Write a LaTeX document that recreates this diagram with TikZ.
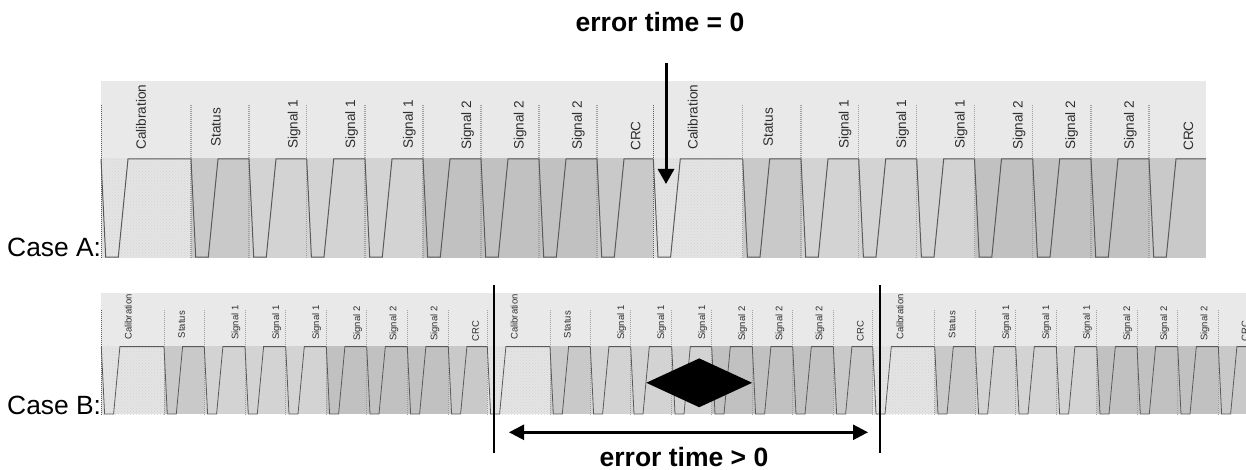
\documentclass[tikz,border=0pt]{standalone}
\usepackage{fontspec}
\setmainfont{Liberation Sans}
\usetikzlibrary{arrows.meta,shapes.geometric,patterns}
\definecolor{hdr}{HTML}{E9E9E9}
\definecolor{cal}{HTML}{E4E4E4}
\definecolor{caldot}{HTML}{D4D4D4}
\definecolor{sta}{HTML}{C9C9C9}
\definecolor{sgo}{HTML}{D3D3D3}
\definecolor{sgt}{HTML}{C1C1C1}
\definecolor{crc}{HTML}{C9C9C9}
\definecolor{wave}{HTML}{5A5A5A}
\definecolor{sep}{HTML}{A0A0A0}
\definecolor{lab}{HTML}{2E2E2E}
\tikzset{
  wavea/.style={draw=wave,line width=1pt,line join=miter},
  waveb/.style={draw=wave,line width=0.8pt,line join=miter},
  sepa/.style={draw=sep,line width=1.2pt,dash pattern=on 1pt off 1pt},
  sepb/.style={draw=sep,line width=0.9pt,dash pattern=on 1pt off 1pt},
  laba/.style={rotate=90,anchor=west,inner sep=0pt,text=lab,font=\fontsize{13.6}{14}\selectfont},
  labb/.style={rotate=90,anchor=west,inner sep=0pt,text=lab,font=\fontsize{9.5}{10}\selectfont},
  caselab/.style={anchor=base west,inner sep=0pt,font=\fontsize{26.4}{28}\selectfont},
  errlab/.style={anchor=base,inner sep=0pt,font=\fontsize{26.5}{28}\selectfont\bfseries},
  bigarrow/.style={line width=3pt,-{Triangle[length=15pt,width=16pt]}},
  dblarrow/.style={line width=2.5pt,{Triangle[length=15pt,width=15pt]}-{Triangle[length=15pt,width=15pt]}},
  boundary/.style={line width=2pt,draw=black},
  errmark/.style={diamond,fill=black,inner sep=0pt,minimum width=106pt,minimum height=49pt,aspect=2.16}
}
\begin{document}
\begin{tikzpicture}[x=1pt,y=-1pt]
\useasboundingbox (0,0) rectangle (1246,470);
\begin{scope}
\clip (0,0) rectangle (1246,470);
% ---- Case A strip
\fill[hdr] (101,81) rectangle (1206,158.5);
\foreach \s/\e/\c in {101/191/cal,191/249/sta,249/306.7/sgo,306.7/365/sgo,365/423/sgo,423/481/sgt,481/539/sgt,539/597/sgt,597/653.3/crc,
  653.3/742.7/cal,742.7/801/sta,801/858.7/sgo,858.7/916.7/sgo,916.7/974.5/sgo,974.5/1032.7/sgt,1032.7/1091/sgt,1091/1149/sgt,1149/1206/crc}
  \fill[\c] (\s,158.5) rectangle (\e,257.5);
\foreach \s/\e in {101/191,653.3/742.7}
  \fill[pattern=crosshatch dots,pattern color=caldot] (\s,158.5) rectangle (\e,257.5);
\foreach \s in {191,249,306.7,365,423,481,539,597,742.7,801,858.7,916.7,974.5,1032.7,1091,1149}
  \draw[sepa] (\s,105) -- (\s,257.5);
\foreach \s in {101,653.3}
  \draw[draw=wave,line width=0.6pt,dash pattern=on 1pt off 1pt] (\s,105) -- (\s,257.5);
\foreach \s/\e in {101/191,191/249,249/306.7,306.7/365,365/423,423/481,481/539,539/597,597/653.3,
  653.3/742.7,742.7/801,801/858.7,858.7/916.7,916.7/974.5,974.5/1032.7,1032.7/1091,1091/1149,1149/1206}
  \draw[wavea] (\s,159) -- (\s+4.7,257) -- (\s+17.3,257) -- (\s+27,159) -- (\e,159);
\foreach \x/\b/\t [count=\i] in {141/150/Calibration,216/146.7/Status,294/149/Signal 1,351.7/149/Signal 1,409.3/149/Signal 1,
  467.7/150/Signal 2,520/150/Signal 2,578.3/150/Signal 2,635.7/151/CRC,
  692.7/150/Calibration,768.3/146.7/Status,845/149/Signal 1,902.7/149/Signal 1,961/149/Signal 1,
  1019/150/Signal 2,1071.7/150/Signal 2,1130.3/150/Signal 2,1188.3/151/CRC}
  \node[laba] (la\i) at (\x,\b) {\t};
% ---- Case B strip
\fill[hdr] (101,293) rectangle (1246,346.3);
\foreach \s/\e/\c in {101.3/164/cal,164/204.3/sta,204.3/245/sgo,245/285.7/sgo,285.7/326.3/sgo,326.3/366.7/sgt,366.7/407.3/sgt,407.3/448.3/sgt,448.3/487.3/crc,
  487.3/550/cal,550/590.3/sta,590.3/630.7/sgo,630.7/671.7/sgo,671.7/711.7/sgo,711.7/752.3/sgt,752.3/792.7/sgt,792.7/833.3/sgt,833.3/872.7/crc,
  872.7/934.7/cal,934.7/975.3/sta,975.3/1015.7/sgo,1015.7/1056.3/sgo,1056.3/1096.7/sgo,1096.7/1137/sgt,1137/1177.7/sgt,1177.7/1218.3/sgt,1218.3/1246/crc}
  \fill[\c] (\s,346.3) rectangle (\e,414.3);
\foreach \s/\e in {101.3/164,487.3/550,872.7/934.7}
  \fill[pattern=crosshatch dots,pattern color=caldot] (\s,346.3) rectangle (\e,414.3);
\foreach \s in {164,204.3,245,285.7,326.3,366.7,407.3,448.3,487.3,550,590.3,630.7,671.7,711.7,752.3,792.7,833.3,872.7,934.7,975.3,1015.7,1056.3,1096.7,1137,1177.7,1218.3}
  \draw[sepb] (\s,310) -- (\s,414.3);
\draw[draw=wave,line width=0.5pt,dash pattern=on 1pt off 1pt] (101.3,310) -- (101.3,414.3);
\foreach \s/\e in {101.3/164,164/204.3,204.3/245,245/285.7,285.7/326.3,326.3/366.7,366.7/407.3,407.3/448.3,448.3/487.3,
  487.3/550,550/590.3,590.3/630.7,630.7/671.7,671.7/711.7,711.7/752.3,752.3/792.7,792.7/833.3,833.3/872.7,
  872.7/934.7,934.7/975.3,975.3/1015.7,1015.7/1056.3,1056.3/1096.7,1096.7/1137,1137/1177.7,1177.7/1218.3,1218.3/1250}
  \draw[waveb] (\s,346.6) -- (\s+3.3,414) -- (\s+12.3,414) -- (\s+18.6,346.6) -- (\e,346.6);
\foreach \x/\b/\t [count=\i] in {128.3/340/Calibration,181.7/338.3/Status,236/340/Signal 1,276.7/340/Signal 1,316.7/340/Signal 1,
  357.7/341/Signal 2,394/341/Signal 2,435/341/Signal 2,475.7/341.7/CRC,
  514.3/340/Calibration,567.3/338.3/Status,621.7/340/Signal 1,661.7/340/Signal 1,702.7/340/Signal 1,
  742.7/341/Signal 2,780/341/Signal 2,820/341/Signal 2,860.3/341.7/CRC,
  900/340/Calibration,952/338.3/Status,1006.7/340/Signal 1,1046.7/340/Signal 1,1087.3/340/Signal 1,
  1127.7/341/Signal 2,1164.7/341/Signal 2,1205/341/Signal 2,1245/341.7/CRC}
  \node[labb] (lb\i) at (\x,\b) {\t};
\end{scope}
% ---- Annotations
\node[caselab] (casea) at (7,256.7) {Case A:};
\node[caselab] (caseb) at (7,414.5) {Case B:};
\node[errlab] (errzero) at (660,31.5) {error time = 0};
\node[errlab] (errpos) at (684,466.7) {error time > 0};
\node[errmark] (mark) at (699.2,382.8) {};
\coordinate (arrtop) at (666,63);
\coordinate (arrtip) at (666,184);
\draw[bigarrow] (arrtop) -- (arrtip);
\coordinate (la) at (509,432.3);
\coordinate (ra) at (868,432.3);
\draw[dblarrow] (la) -- (ra);
\coordinate (lt) at (494.3,285);
\coordinate (lbot) at (494.3,453);
\coordinate (rt) at (880,285);
\coordinate (rbot) at (880,453);
\draw[boundary] (lt) -- (lbot);
\draw[boundary] (rt) -- (rbot);
\end{tikzpicture}
\end{document}
